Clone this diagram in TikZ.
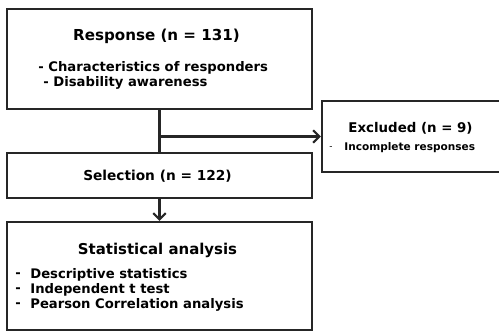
\documentclass[tikz,border=0pt]{standalone}
\usepackage{fontspec}
\setmainfont{DejaVu Sans}
\usetikzlibrary{arrows.meta}
\begin{document}
\begin{tikzpicture}
            \tikzstyle{boxf}=[draw,line width=1.4pt,draw=black!85,inner sep=0pt]
            \tikzstyle{txt}=[inner sep=0pt,font=\bfseries\fontsize{7.5}{9}\selectfont]
            \tikzstyle{hd}=[inner sep=0pt,font=\bfseries\fontsize{8.6}{10}\selectfont]
            \tikzstyle{conn}=[line width=1.2pt,draw=black!85]
            \tikzstyle{barb}=[-{Straight Barb[length=3.5pt,width=7pt,line width=1.2pt]}]

            \useasboundingbox (0,0) rectangle (9.98,6.64);

            %boxes
            \node[boxf,minimum width=6.1cm,minimum height=2cm] (resp) at (3.19,5.46) {};
            \node[boxf,minimum width=6.1cm,minimum height=.9cm] (sel) at (3.19,3.13) {};
            \node[boxf,minimum width=6.1cm,minimum height=2.16cm] (stat) at (3.19,1.12) {};
            \node[boxf,minimum width=3.7cm,minimum height=1.42cm] (excl) at (8.29,3.91) {};

            %response
            \node[hd] (resptitle) at (3.13,5.92) {Response (n = 131)};
            \node[txt,anchor=west] (resp1) at (.76,5.28) {- Characteristics of responders};
            \node[txt,anchor=west] (resp2) at (.86,4.98) {- Disability awareness};

            %selection
            \node[txt,font=\bfseries\fontsize{7.8}{9}\selectfont] (seltitle) at (3.15,3.12) {Selection (n = 122)};

            %excluded
            \node[hd,font=\bfseries\fontsize{7.6}{9}\selectfont] (excltitle) at (8.21,4.08) {Excluded (n = 9)};
            \node[txt,anchor=west,font=\fontsize{5}{6}\selectfont] (excldash) at (6.58,3.68) {-};
            \node[txt,anchor=west,font=\bfseries\fontsize{6}{7}\selectfont] (excl1) at (6.88,3.68) {Incomplete responses};

            %statistical_analysis
            \node[hd,font=\bfseries\fontsize{8.5}{11}\selectfont] (stattitle) at (3.15,1.64) {Statistical analysis};
            \foreach \y/\t [count=\i] in {1.14/Descriptive statistics,.84/Independent t test,.54/Pearson Correlation analysis}
            {
                \node[txt,anchor=west] (statd\i) at (.3,\y) {-};
                \node[txt,anchor=west] (stat\i) at (.6,\y) {\t};
            }

            %connectors
            \coordinate (split) at (resp.south |- excl.west);
            \draw[conn] (resp.south)--(sel.north);
            \draw[conn,barb] (split)--(excl.west);
            \draw[conn,barb] (sel.south)--(stat.north);

       \end{tikzpicture}
\end{document}
